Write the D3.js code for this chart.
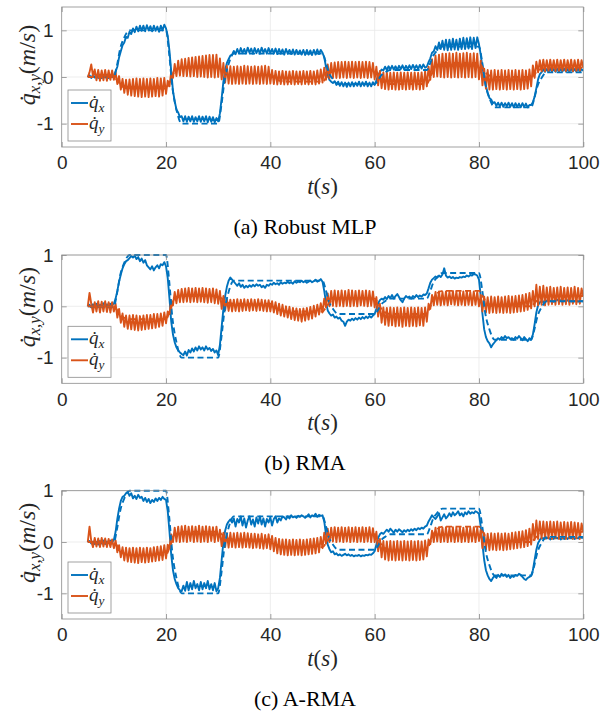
<!DOCTYPE html>
<html>
<head>
<meta charset="utf-8">
<script src="https://cdn.jsdelivr.net/npm/d3@7/dist/d3.min.js"></script>
<style>
body { margin: 0; background: #fff; }
svg { display: block; }
</style>
</head>
<body>
<script>
// Sampling of the measured signals (s)
var sampleStart = 5, sampleStep = 1 / 3;

var xTicks = [0, 20, 40, 60, 80, 100];
var yTicks = [-1, 0, 1];
var captions = ["(a) Robust MLP", "(b) RMA", "(c) A-RMA"];

// Commanded velocities (dashed)
var refXTime = [5, 10, 10.6, 11.2, 12, 13, 20, 20.6, 21.2, 22, 23, 30, 30.6, 31.2, 32, 33, 50, 50.6, 51.2, 52, 53,
    60, 60.6, 61.2, 62, 63, 70, 70.6, 71.2, 72, 73, 80, 80.6, 81.2, 82, 83, 90, 90.6, 91.2, 92, 93, 100];
var refXVal = [0, 0, 0.25, 0.6, 0.85, 1, 1, 0.5, -0.2, -0.7, -1, -1, -0.62, -0.1, 0.28, 0.5, 0.5, 0.33, 0.1, -0.05, -0.15,
    -0.15, -0.08, 0.03, 0.1, 0.15, 0.15, 0.28, 0.45, 0.57, 0.65, 0.65, 0.33, -0.13, -0.45, -0.65, -0.65, -0.46, -0.2, -0.02, 0.1, 0.1];
var refYTime = [5, 10, 10.8, 11.6, 13, 20, 20.8, 21.6, 23, 30, 30.8, 31.6, 33, 40, 40.8, 41.6, 43, 50, 50.8, 51.6, 53,
    60, 60.8, 61.6, 63, 70, 70.8, 71.6, 73, 80, 80.8, 81.6, 83, 90, 90.8, 91.6, 93, 100];
var refYVal = [0, 0, -0.1, -0.2, -0.25, -0.25, -0.07, 0.11, 0.2, 0.2, 0.14, 0.08, 0.05, 0.05, -0.01, -0.07, -0.1, -0.1, 0, 0.1, 0.15,
    0.15, 0.03, -0.09, -0.15, -0.15, 0.03, 0.21, 0.3, 0.3, 0.18, 0.06, 0, 0, 0.08, 0.16, 0.2, 0.2];

// (a) Robust MLP
var mlpX = [
    0.00, 0.04, -0.02, 0.05, -0.01, 0.04, -0.02, 0.05, -0.02, 0.04, -0.01, 0.05, -0.02, 0.04, 0.00,
    0.03, 0.12, 0.22, 0.42, 0.55, 0.68, 0.74, 0.86, 0.84, 0.97,
    0.92, 1.04, 0.96, 1.08, 0.98, 1.1, 0.99, 1.1, 0.98, 1.11,
    1.0, 1.09, 0.98, 1.1, 0.99, 1.08, 0.97, 1.1, 1.0, 1.12,
    1.04, 0.88, 0.55, 0.12, -0.3, -0.52, -0.7, -0.76, -0.86, -0.84,
    -0.95, -0.84, -0.96, -0.85, -0.95, -0.84, -0.96, -0.86, -0.95, -0.84,
    -0.96, -0.85, -0.95, -0.84, -0.97, -0.85, -0.96, -0.86, -0.97, -0.88,
    -0.95, -0.78, -0.45, -0.1, 0.15, 0.3, 0.38, 0.46, 0.48, 0.56,
    0.49, 0.6, 0.5, 0.62, 0.51, 0.6, 0.5, 0.63, 0.52, 0.61,
    0.5, 0.62, 0.51, 0.6, 0.5, 0.63, 0.52, 0.6, 0.5, 0.62,
    0.51, 0.6, 0.5, 0.61, 0.49, 0.6, 0.5, 0.59, 0.48, 0.6,
    0.5, 0.58, 0.49, 0.59, 0.48, 0.58, 0.49, 0.57, 0.48, 0.58,
    0.47, 0.58, 0.48, 0.57, 0.47, 0.58, 0.48, 0.59, 0.49, 0.58,
    0.52, 0.42, 0.22, 0.04, -0.06, -0.1, -0.13, -0.09, -0.17, -0.1,
    -0.19, -0.11, -0.2, -0.12, -0.21, -0.12, -0.2, -0.11, -0.2, -0.12,
    -0.19, -0.1, -0.2, -0.11, -0.19, -0.1, -0.2, -0.12, -0.2, -0.11,
    -0.17, -0.08, 0.04, 0.1, 0.16, 0.14, 0.22, 0.15, 0.23, 0.16,
    0.24, 0.16, 0.23, 0.15, 0.24, 0.17, 0.25, 0.16, 0.24, 0.17,
    0.25, 0.17, 0.26, 0.18, 0.25, 0.17, 0.26, 0.18, 0.27, 0.2,
    0.22, 0.32, 0.4, 0.52, 0.55, 0.66, 0.58, 0.74, 0.6, 0.78,
    0.58, 0.8, 0.57, 0.8, 0.58, 0.82, 0.59, 0.8, 0.58, 0.82,
    0.6, 0.84, 0.6, 0.83, 0.61, 0.85, 0.6, 0.84, 0.62, 0.85,
    0.7, 0.48, 0.2, 0.0, -0.2, -0.34, -0.45, -0.48, -0.56, -0.54,
    -0.62, -0.55, -0.63, -0.55, -0.64, -0.56, -0.63, -0.55, -0.64, -0.56,
    -0.65, -0.56, -0.64, -0.57, -0.65, -0.56, -0.64, -0.57, -0.65, -0.6,
    -0.6, -0.54, -0.42, -0.24, -0.05, 0.06, 0.1, 0.16, 0.11, 0.17,
    0.11, 0.18, 0.12, 0.17, 0.11, 0.18, 0.12, 0.17, 0.12, 0.18,
    0.12, 0.17, 0.11, 0.18, 0.12, 0.17, 0.12, 0.18, 0.11, 0.17,
    0.13
];
var mlpY = [
    0.0, 0.1, 0.27, 0.02, 0.16, -0.07, 0.15, -0.08, 0.14, -0.07, 0.15, -0.08, 0.14, -0.06, 0.14,
    -0.06, 0.1, -0.15, 0.02, -0.27, -0.04, -0.34, -0.06, -0.38, -0.05,
    -0.4, -0.04, -0.41, -0.03, -0.42, -0.04, -0.43, -0.03, -0.42, -0.04,
    -0.43, -0.03, -0.42, -0.04, -0.41, -0.02, -0.42, -0.03, -0.4, -0.02,
    -0.36, -0.08, -0.2, 0.12, -0.02, 0.28, 0.02, 0.35, 0.03, 0.38,
    0.02, 0.39, 0.02, 0.41, 0.01, 0.42, 0.02, 0.43, 0.0, 0.44,
    0.01, 0.45, 0.0, 0.46, -0.01, 0.47, 0.0, 0.47, -0.01, 0.48,
    0.0, 0.4, -0.05, 0.3, -0.12, 0.24, -0.14, 0.23, -0.15, 0.22,
    -0.14, 0.23, -0.15, 0.22, -0.14, 0.24, -0.15, 0.23, -0.14, 0.22,
    -0.15, 0.23, -0.14, 0.22, -0.15, 0.23, -0.14, 0.24, -0.15, 0.22,
    -0.14, 0.15, -0.15, 0.13, -0.16, 0.12, -0.15, 0.13, -0.16, 0.12,
    -0.16, 0.12, -0.15, 0.13, -0.16, 0.12, -0.15, 0.12, -0.16, 0.13,
    -0.15, 0.12, -0.16, 0.13, -0.15, 0.12, -0.16, 0.14, -0.14, 0.16,
    -0.12, 0.2, -0.06, 0.27, -0.03, 0.3, -0.02, 0.31, -0.02, 0.32,
    -0.02, 0.32, -0.01, 0.33, -0.02, 0.32, -0.01, 0.33, -0.02, 0.32,
    -0.01, 0.33, -0.02, 0.32, -0.01, 0.33, -0.02, 0.32, -0.01, 0.3,
    -0.05, 0.22, -0.18, 0.13, -0.24, 0.1, -0.26, 0.1, -0.27, 0.09,
    -0.26, 0.1, -0.27, 0.09, -0.27, 0.1, -0.26, 0.09, -0.27, 0.1,
    -0.26, 0.09, -0.27, 0.1, -0.26, 0.09, -0.27, 0.1, -0.26, 0.12,
    -0.2, 0.22, -0.06, 0.38, 0.0, 0.46, 0.01, 0.48, 0.0, 0.5,
    -0.01, 0.5, 0.0, 0.51, -0.01, 0.5, 0.0, 0.52, -0.01, 0.5,
    0.0, 0.51, -0.01, 0.52, 0.0, 0.5, -0.01, 0.51, 0.0, 0.5,
    -0.05, 0.35, -0.18, 0.18, -0.25, 0.15, -0.27, 0.14, -0.27, 0.15,
    -0.26, 0.14, -0.27, 0.15, -0.26, 0.14, -0.27, 0.15, -0.26, 0.14,
    -0.27, 0.15, -0.26, 0.14, -0.27, 0.15, -0.26, 0.14, -0.25, 0.16,
    -0.2, 0.25, -0.02, 0.33, 0.1, 0.36, 0.12, 0.37, 0.12, 0.36,
    0.12, 0.37, 0.13, 0.36, 0.12, 0.37, 0.12, 0.36, 0.13, 0.37,
    0.12, 0.36, 0.13, 0.37, 0.12, 0.36, 0.12, 0.37, 0.13, 0.36,
    0.2
];

// (b) RMA
var rmaX = [
    0.0, 0.03, -0.02, 0.04, 0.0, 0.05, -0.01, 0.03, 0.02, 0.06, 0.0, 0.04, 0.02, 0.05, 0.03,
    0.05, 0.15, 0.3, 0.48, 0.62, 0.74, 0.82, 0.88, 0.9, 0.94,
    0.98, 0.95, 0.99, 0.92, 0.96, 0.88, 0.93, 0.85, 0.9, 0.8,
    0.76, 0.72, 0.78, 0.7, 0.76, 0.8, 0.74, 0.82, 0.8, 0.86,
    0.78, 0.55, 0.15, -0.3, -0.55, -0.7, -0.8, -0.86, -0.9, -0.93,
    -0.95, -0.88, -0.96, -0.85, -0.9, -0.82, -0.88, -0.8, -0.86, -0.78,
    -0.84, -0.8, -0.86, -0.78, -0.84, -0.81, -0.87, -0.83, -0.9, -0.86,
    -0.95, -0.75, -0.4, -0.05, 0.2, 0.38, 0.5, 0.56, 0.52, 0.48,
    0.44, 0.4, 0.45, 0.38, 0.42, 0.36, 0.4, 0.37, 0.41, 0.38,
    0.42, 0.39, 0.43, 0.4, 0.42, 0.37, 0.4, 0.36, 0.42, 0.4,
    0.44, 0.42, 0.46, 0.43, 0.45, 0.42, 0.47, 0.44, 0.46, 0.45,
    0.48, 0.45, 0.47, 0.44, 0.49, 0.46, 0.48, 0.47, 0.5, 0.47,
    0.49, 0.46, 0.48, 0.5, 0.47, 0.49, 0.52, 0.48, 0.5, 0.53,
    0.48, 0.3, 0.08, -0.08, -0.14, -0.18, -0.16, -0.22, -0.2, -0.24,
    -0.22, -0.28, -0.3, -0.38, -0.3, -0.26, -0.28, -0.24, -0.27, -0.23,
    -0.26, -0.22, -0.25, -0.21, -0.24, -0.2, -0.23, -0.19, -0.22, -0.18,
    -0.15, -0.05, 0.06, 0.12, 0.15, 0.13, 0.18, 0.14, 0.2, 0.16,
    0.22, 0.15, 0.2, 0.24, 0.18, 0.12, 0.08, 0.15, 0.2, 0.17,
    0.19, 0.15, 0.2, 0.17, 0.22, 0.18, 0.21, 0.19, 0.23, 0.22,
    0.25, 0.35, 0.46, 0.52, 0.55, 0.58, 0.56, 0.6, 0.57, 0.62,
    0.74, 0.6, 0.56, 0.58, 0.55, 0.57, 0.54, 0.56, 0.55, 0.57,
    0.56, 0.58, 0.57, 0.6, 0.58, 0.61, 0.6, 0.63, 0.62, 0.6,
    0.52, 0.2, -0.15, -0.45, -0.6, -0.68, -0.72, -0.8, -0.74, -0.7,
    -0.66, -0.62, -0.65, -0.6, -0.63, -0.58, -0.62, -0.6, -0.64, -0.62,
    -0.65, -0.6, -0.63, -0.58, -0.62, -0.66, -0.6, -0.64, -0.68, -0.62,
    -0.65, -0.55, -0.35, -0.12, 0.02, 0.08, 0.1, 0.08, 0.12, 0.1,
    0.13, 0.1, 0.12, 0.09, 0.11, 0.13, 0.1, 0.12, 0.09, 0.11,
    0.1, 0.12, 0.09, 0.11, 0.08, 0.1, 0.12, 0.09, 0.11, 0.1,
    0.1
];
var rmaY = [
    0.0, 0.26, 0.05, -0.12, 0.08, -0.1, 0.1, -0.12, 0.09, -0.1, 0.1, -0.11, 0.08, -0.12, 0.08,
    -0.1, 0.05, -0.22, -0.05, -0.32, -0.14, -0.4, -0.18, -0.44, -0.18,
    -0.45, -0.17, -0.46, -0.18, -0.47, -0.19, -0.46, -0.18, -0.45, -0.17,
    -0.44, -0.17, -0.43, -0.15, -0.42, -0.15, -0.4, -0.14, -0.38, -0.12,
    -0.33, -0.1, -0.15, 0.12, 0.02, 0.28, 0.06, 0.32, 0.08, 0.34,
    0.08, 0.35, 0.09, 0.36, 0.08, 0.35, 0.09, 0.36, 0.08, 0.35,
    0.09, 0.36, 0.08, 0.35, 0.07, 0.34, 0.08, 0.35, 0.06, 0.33,
    0.05, 0.3, -0.05, 0.2, -0.08, 0.14, -0.09, 0.13, -0.1, 0.13,
    -0.09, 0.14, -0.1, 0.13, -0.09, 0.14, -0.08, 0.13, -0.09, 0.14,
    -0.08, 0.13, -0.09, 0.14, -0.08, 0.13, -0.09, 0.12, -0.1, 0.12,
    -0.1, 0.1, -0.12, 0.08, -0.15, 0.05, -0.18, 0.03, -0.2, 0.0,
    -0.22, -0.01, -0.25, -0.03, -0.27, -0.04, -0.28, -0.05, -0.3, -0.04,
    -0.28, -0.03, -0.26, -0.01, -0.24, 0.01, -0.2, 0.03, -0.16, 0.06,
    -0.12, 0.15, -0.02, 0.25, 0.0, 0.3, 0.01, 0.31, 0.0, 0.3,
    0.01, 0.31, 0.0, 0.3, 0.01, 0.32, 0.0, 0.31, 0.01, 0.3,
    0.0, 0.31, 0.02, 0.3, 0.01, 0.31, 0.0, 0.3, 0.01, 0.29,
    -0.02, 0.18, -0.2, 0.05, -0.32, -0.02, -0.36, -0.03, -0.38, -0.02,
    -0.37, -0.03, -0.39, -0.02, -0.38, -0.03, -0.4, -0.02, -0.38, -0.03,
    -0.39, -0.02, -0.38, -0.03, -0.39, -0.02, -0.37, -0.03, -0.38, -0.02,
    -0.3, 0.05, -0.05, 0.22, 0.02, 0.28, 0.03, 0.29, 0.02, 0.28,
    0.03, 0.29, 0.02, 0.28, 0.04, 0.3, 0.03, 0.29, 0.02, 0.28,
    0.03, 0.29, 0.02, 0.3, 0.03, 0.28, 0.02, 0.29, 0.03, 0.28,
    0.0, 0.22, -0.1, 0.19, -0.12, 0.18, -0.13, 0.19, -0.12, 0.18,
    -0.13, 0.19, -0.12, 0.18, -0.13, 0.19, -0.12, 0.2, -0.13, 0.19,
    -0.12, 0.2, -0.11, 0.21, -0.1, 0.22, -0.09, 0.24, -0.07, 0.26,
    -0.04, 0.3, 0.0, 0.42, 0.02, 0.38, 0.03, 0.4, 0.02, 0.37,
    0.03, 0.38, 0.04, 0.36, 0.03, 0.37, 0.04, 0.38, 0.03, 0.36,
    0.04, 0.37, 0.03, 0.36, 0.05, 0.38, 0.04, 0.36, 0.05, 0.35,
    0.2
];

// (c) A-RMA
var armaX = [
    0.0, 0.02, -0.03, 0.01, -0.04, 0.0, -0.05, 0.02, -0.03, 0.03, -0.04, 0.01, -0.02, 0.03, 0.0,
    0.04, 0.2, 0.45, 0.65, 0.8, 0.88, 0.9, 0.95, 0.98, 0.9,
    0.95, 0.85, 0.9, 0.84, 0.92, 0.86, 0.88, 0.8, 0.86, 0.78,
    0.84, 0.76, 0.82, 0.78, 0.85, 0.8, 0.86, 0.82, 0.88, 0.84,
    0.82, 0.6, 0.2, -0.25, -0.55, -0.72, -0.82, -0.9, -0.94, -0.96,
    -0.85, -0.95, -0.78, -0.94, -0.8, -0.92, -0.76, -0.9, -0.82, -0.94,
    -0.78, -0.92, -0.8, -0.9, -0.76, -0.92, -0.82, -0.94, -0.8, -0.96,
    -0.9, -0.7, -0.35, 0.0, 0.22, 0.34, 0.4, 0.44, 0.38, 0.46,
    0.3, 0.45, 0.38, 0.5, 0.32, 0.46, 0.28, 0.42, 0.5, 0.34,
    0.44, 0.3, 0.48, 0.36, 0.5, 0.34, 0.46, 0.3, 0.45, 0.38,
    0.48, 0.32, 0.45, 0.5, 0.38, 0.46, 0.42, 0.5, 0.48, 0.44,
    0.5, 0.46, 0.52, 0.48, 0.5, 0.47, 0.51, 0.49, 0.52, 0.5,
    0.47, 0.5, 0.54, 0.48, 0.52, 0.5, 0.55, 0.49, 0.53, 0.51,
    0.52, 0.4, 0.15, -0.05, -0.14, -0.2, -0.18, -0.24, -0.22, -0.26,
    -0.24, -0.27, -0.25, -0.23, -0.26, -0.24, -0.27, -0.25, -0.28, -0.26,
    -0.27, -0.25, -0.28, -0.26, -0.27, -0.25, -0.26, -0.24, -0.25, -0.22,
    -0.18, -0.05, 0.08, 0.15, 0.18, 0.16, 0.2, 0.24, 0.2, 0.26,
    0.22, 0.18, 0.24, 0.2, 0.25, 0.22, 0.19, 0.23, 0.2, 0.24,
    0.21, 0.25, 0.22, 0.26, 0.23, 0.27, 0.25, 0.28, 0.26, 0.3,
    0.32, 0.4, 0.46, 0.52, 0.48, 0.45, 0.5, 0.56, 0.42, 0.48,
    0.54, 0.46, 0.5, 0.56, 0.5, 0.58, 0.52, 0.55, 0.6, 0.52,
    0.56, 0.5, 0.58, 0.54, 0.6, 0.55, 0.58, 0.56, 0.6, 0.58,
    0.55, 0.3, -0.05, -0.35, -0.55, -0.65, -0.72, -0.76, -0.7, -0.66,
    -0.7, -0.64, -0.68, -0.62, -0.66, -0.63, -0.68, -0.64, -0.7, -0.66,
    -0.68, -0.64, -0.66, -0.62, -0.64, -0.68, -0.72, -0.74, -0.7, -0.68,
    -0.66, -0.55, -0.35, -0.15, -0.02, 0.04, 0.08, 0.06, 0.1, 0.07,
    0.09, 0.05, 0.08, 0.06, 0.1, 0.07, 0.09, 0.05, 0.08, 0.06,
    0.09, 0.06, 0.1, 0.07, 0.09, 0.06, 0.08, 0.07, 0.1, 0.08,
    0.08
];
var armaY = [
    0.0, 0.3, 0.02, -0.1, 0.08, -0.09, 0.07, -0.1, 0.08, -0.09, 0.07, -0.1, 0.06, -0.1, 0.05,
    -0.12, 0.03, -0.2, -0.06, -0.3, -0.1, -0.36, -0.11, -0.38, -0.12,
    -0.39, -0.11, -0.4, -0.12, -0.41, -0.11, -0.39, -0.12, -0.4, -0.11,
    -0.39, -0.12, -0.38, -0.1, -0.37, -0.09, -0.36, -0.08, -0.35, -0.06,
    -0.32, -0.05, -0.12, 0.15, 0.0, 0.28, 0.01, 0.3, 0.0, 0.31,
    0.01, 0.32, 0.0, 0.3, 0.02, 0.31, 0.0, 0.3, 0.01, 0.32,
    0.0, 0.3, 0.01, 0.31, 0.0, 0.3, 0.02, 0.29, 0.0, 0.3,
    0.02, 0.24, -0.08, 0.18, -0.1, 0.17, -0.11, 0.18, -0.1, 0.17,
    -0.11, 0.18, -0.1, 0.17, -0.11, 0.18, -0.1, 0.17, -0.11, 0.16,
    -0.12, 0.16, -0.11, 0.15, -0.12, 0.16, -0.13, 0.14, -0.12, 0.15,
    -0.14, 0.12, -0.18, 0.08, -0.22, 0.06, -0.24, 0.05, -0.25, 0.05,
    -0.26, 0.04, -0.25, 0.05, -0.26, 0.04, -0.25, 0.05, -0.26, 0.04,
    -0.25, 0.05, -0.24, 0.06, -0.23, 0.07, -0.22, 0.08, -0.2, 0.1,
    -0.12, 0.18, -0.03, 0.26, 0.0, 0.28, 0.01, 0.29, 0.0, 0.28,
    0.01, 0.29, 0.0, 0.28, 0.01, 0.29, 0.0, 0.28, 0.01, 0.29,
    0.0, 0.28, 0.01, 0.29, 0.0, 0.28, 0.01, 0.29, 0.0, 0.27,
    0.0, 0.2, -0.18, 0.06, -0.3, 0.02, -0.34, 0.01, -0.36, 0.02,
    -0.35, 0.01, -0.36, 0.02, -0.35, 0.01, -0.36, 0.02, -0.35, 0.01,
    -0.36, 0.02, -0.35, 0.01, -0.36, 0.02, -0.35, 0.01, -0.34, 0.03,
    -0.28, 0.05, -0.04, 0.22, 0.0, 0.28, 0.01, 0.29, 0.0, 0.28,
    0.01, 0.29, 0.0, 0.28, 0.01, 0.29, 0.0, 0.28, 0.01, 0.29,
    0.0, 0.28, 0.01, 0.29, 0.0, 0.28, 0.01, 0.29, 0.0, 0.28,
    0.02, 0.24, -0.12, 0.17, -0.15, 0.16, -0.16, 0.17, -0.15, 0.16,
    -0.16, 0.17, -0.15, 0.16, -0.16, 0.17, -0.15, 0.16, -0.14, 0.18,
    -0.13, 0.19, -0.12, 0.2, -0.11, 0.21, -0.1, 0.23, -0.08, 0.26,
    -0.05, 0.35, 0.04, 0.42, 0.06, 0.4, 0.07, 0.4, 0.06, 0.39,
    0.07, 0.4, 0.06, 0.39, 0.07, 0.4, 0.06, 0.38, 0.07, 0.39,
    0.06, 0.38, 0.07, 0.39, 0.06, 0.38, 0.07, 0.37, 0.06, 0.36,
    0.2
];

var measuredX = [mlpX, rmaX, armaX];
var measuredY = [mlpY, rmaY, armaY];

// Layout
var W = 610, H = 711;
var plotLeft = 61.7, plotRight = 583.3;
var layout = [
    {top: 7, bottom: 147, yDomain: [-1.5, 1.5]},
    {top: 255, bottom: 383.3, yDomain: [-1.5, 1]},
    {top: 490.7, bottom: 619, yDomain: [-1.5, 1]}
];
var BLUE = "#0072BD", ORANGE = "#D95319";
var AXIS = "#8a8a8a", GRID = "#e8e8e8", TEXT = "#262626";
var SERIF = "'Liberation Serif', 'Times New Roman', serif";
var SANS = "'Liberation Sans', Arial, Helvetica, sans-serif";
var LW = 1.9;

var svg = d3.select("body").append("svg").attr("width", W).attr("height", H);
svg.append("rect").attr("width", W).attr("height", H).attr("fill", "#fff");

var x = d3.scaleLinear().domain([0, 100]).range([plotLeft, plotRight]);

function timeAt(i) { return sampleStart + i * sampleStep; }

// math-ish label: q-dot with subscript
function qdot(sel, sub, size) {
    sel.append("tspan").attr("font-style", "italic").text("q\u0307");
    sel.append("tspan").attr("font-style", "italic").attr("font-size", size * 0.7)
        .attr("dy", size * 0.22).text(sub);
}

function drawPanel(i) {
    var L = layout[i];
    var y = d3.scaleLinear().domain(L.yDomain).range([L.bottom, L.top]);
    var g = svg.append("g");

    // grid
    g.selectAll(".gx").data(xTicks.slice(1, -1)).enter().append("line")
        .attr("x1", x).attr("x2", x).attr("y1", L.top).attr("y2", L.bottom)
        .attr("stroke", GRID).attr("stroke-width", 0.8);
    g.selectAll(".gy").data(yTicks).enter().append("line")
        .attr("x1", plotLeft).attr("x2", plotRight).attr("y1", y).attr("y2", y)
        .attr("stroke", GRID).attr("stroke-width", 0.8);

    // series
    var clipId = "clip" + i;
    svg.append("clipPath").attr("id", clipId).append("rect")
        .attr("x", plotLeft).attr("y", L.top - 2)
        .attr("width", plotRight - plotLeft).attr("height", L.bottom - L.top + 4);
    var s = g.append("g").attr("clip-path", "url(#" + clipId + ")");

    var measured = d3.line().x(function(d, k) { return x(timeAt(k)); }).y(function(d) { return y(d); });
    var command = d3.line().curve(d3.curveMonotoneX)
        .x(function(d) { return x(d[0]); }).y(function(d) { return y(d[1]); });

    s.append("path").datum(measuredX[i]).attr("d", measured)
        .attr("fill", "none").attr("stroke", BLUE).attr("stroke-width", LW).attr("stroke-linejoin", "round");
    s.append("path").datum(measuredY[i]).attr("d", measured)
        .attr("fill", "none").attr("stroke", ORANGE).attr("stroke-width", LW).attr("stroke-linejoin", "round");
    s.append("path").datum(d3.zip(refXTime, refXVal)).attr("d", command)
        .attr("fill", "none").attr("stroke", BLUE).attr("stroke-width", LW).attr("stroke-dasharray", "6,3.5");
    s.append("path").datum(d3.zip(refYTime, refYVal)).attr("d", command)
        .attr("fill", "none").attr("stroke", ORANGE).attr("stroke-width", LW).attr("stroke-dasharray", "6,3.5");

    // axes (ticks inside, box on)
    var fmt = function(d) { return String(d); };
    var bottomAxis = g.append("g").attr("transform", "translate(0," + L.bottom + ")")
        .call(d3.axisBottom(x).tickValues(xTicks).tickSizeInner(-5).tickSizeOuter(0).tickPadding(9).tickFormat(fmt));
    var topAxis = g.append("g").attr("transform", "translate(0," + L.top + ")")
        .call(d3.axisTop(x).tickValues(xTicks).tickSizeInner(-5).tickSizeOuter(0).tickFormat(""));
    var leftAxis = g.append("g").attr("transform", "translate(" + plotLeft + ",0)")
        .call(d3.axisLeft(y).tickValues(yTicks).tickSizeInner(-5).tickSizeOuter(0).tickPadding(8).tickFormat(fmt));
    var rightAxis = g.append("g").attr("transform", "translate(" + plotRight + ",0)")
        .call(d3.axisRight(y).tickValues(yTicks).tickSizeInner(-5).tickSizeOuter(0).tickFormat(""));
    [bottomAxis, topAxis, leftAxis, rightAxis].forEach(function(a) {
        a.select(".domain").remove();
        a.selectAll("line").attr("stroke", AXIS).attr("stroke-width", 0.8);
        a.selectAll("text").attr("font-family", SANS).attr("font-size", 19).attr("fill", TEXT);
    });
    g.append("rect").attr("x", plotLeft).attr("y", L.top)
        .attr("width", plotRight - plotLeft).attr("height", L.bottom - L.top)
        .attr("fill", "none").attr("stroke", AXIS).attr("stroke-width", 0.8);

    // y label
    var ymid = (L.top + L.bottom) / 2 - 12;
    var yl = g.append("text").attr("transform", "translate(35," + ymid + ") rotate(-90)")
        .attr("text-anchor", "middle").attr("font-family", SERIF).attr("font-size", 24).attr("fill", TEXT);
    qdot(yl, "x,y", 24);
    yl.append("tspan").attr("dy", -24 * 0.22).text("(");
    yl.append("tspan").attr("font-style", "italic").text("m");
    yl.append("tspan").text("/");
    yl.append("tspan").attr("font-style", "italic").text("s");
    yl.append("tspan").text(")");

    // x label
    var xl = g.append("text").attr("x", (plotLeft + plotRight) / 2).attr("y", L.bottom + 47)
        .attr("text-anchor", "middle").attr("font-family", SERIF).attr("font-size", 23).attr("fill", TEXT);
    xl.append("tspan").attr("font-style", "italic").text("t");
    xl.append("tspan").text("(");
    xl.append("tspan").attr("font-style", "italic").text("s");
    xl.append("tspan").text(")");

    // legend
    var lx = plotLeft + 6.3, ly = L.bottom - 57;
    var lg = g.append("g");
    lg.append("rect").attr("x", lx).attr("y", ly).attr("width", 43).attr("height", 51)
        .attr("fill", "#fff").attr("stroke", AXIS).attr("stroke-width", 0.8);
    [{c: BLUE, sub: "x", dy: 13}, {c: ORANGE, sub: "y", dy: 34}].forEach(function(e) {
        lg.append("line").attr("x1", lx + 3).attr("x2", lx + 20).attr("y1", ly + e.dy).attr("y2", ly + e.dy)
            .attr("stroke", e.c).attr("stroke-width", LW);
        var t = lg.append("text").attr("x", lx + 21).attr("y", ly + e.dy + 5)
            .attr("font-family", SERIF).attr("font-size", 19).attr("fill", TEXT);
        qdot(t, e.sub, 19);
    });

    // caption
    svg.append("text").attr("x", W / 2).attr("y", L.bottom + 87).attr("text-anchor", "middle")
        .attr("font-family", SERIF).attr("font-size", 22).attr("fill", "#000").text(captions[i]);
}

[0, 1, 2].forEach(drawPanel);
</script>
</body>
</html>
